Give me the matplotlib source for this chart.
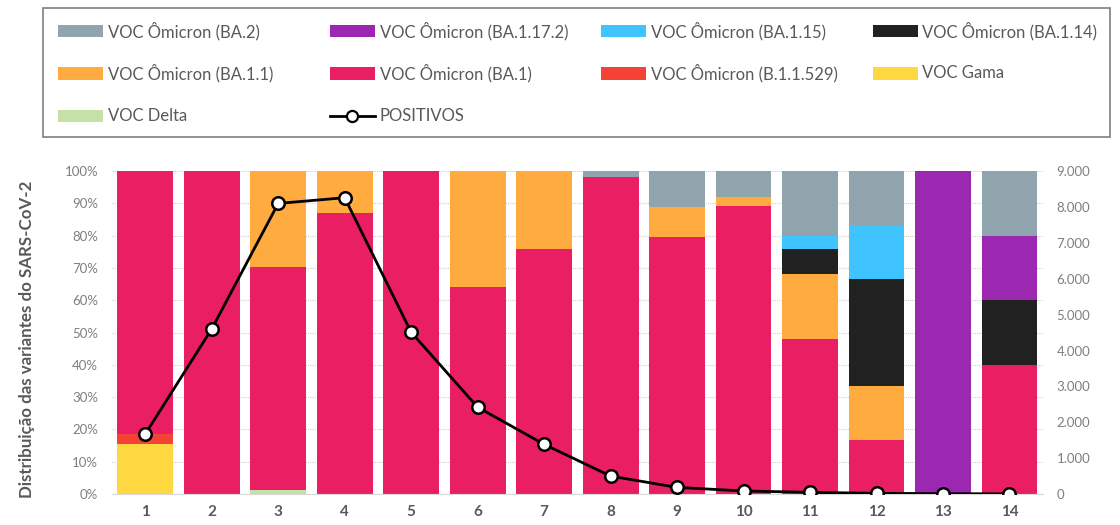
import numpy as np
import matplotlib
matplotlib.use("Agg")
from matplotlib import pyplot as plt
from matplotlib.ticker import FuncFormatter, MultipleLocator
from matplotlib.lines import Line2D
from matplotlib.patches import Rectangle

plt.rcParams['font.family'] = ['Lato', 'DejaVu Sans']

# categories (semanas)
semanas = list(range(1, 15))

# percentages per variant, stacked bottom -> top
delta     = [0, 0, 1.4, 0, 0, 0, 0, 0, 0, 0, 0, 0, 0, 0]
gama      = [15.6, 0, 0, 0, 0, 0, 0, 0, 0, 0, 0, 0, 0, 0]
b11529    = [3.1, 0, 0, 0, 0, 0, 0, 0, 0, 0, 0, 0, 0, 0]
ba1       = [81.3, 100, 68.9, 86.9, 100, 64.2, 75.9, 98.2, 79.7, 89.3, 48, 16.7, 0, 40]
ba11      = [0, 0, 29.7, 13.1, 0, 35.8, 24.1, 0, 9.2, 2.6, 20, 16.7, 0, 0]
ba114     = [0, 0, 0, 0, 0, 0, 0, 0, 0, 0, 8, 33.3, 0, 20]
ba115     = [0, 0, 0, 0, 0, 0, 0, 0, 0, 0, 4, 16.7, 0, 0]
ba1172    = [0, 0, 0, 0, 0, 0, 0, 0, 0, 0, 0, 0, 100, 20]
ba2       = [0, 0, 0, 0, 0, 0, 0, 1.8, 11.1, 8.1, 20, 16.6, 0, 20]

positivos = [1670, 4600, 8100, 8260, 4510, 2420, 1385, 500, 185, 85, 47, 20, 10, 5]

series = [
    ("VOC Delta", delta, "#C5E1A5"),
    ("VOC Gama", gama, "#FFD740"),
    ("VOC Ômicron (B.1.1.529)", b11529, "#F44336"),
    ("VOC Ômicron (BA.1)", ba1, "#E91E63"),
    ("VOC Ômicron (BA.1.1)", ba11, "#FFAB40"),
    ("VOC Ômicron (BA.1.14)", ba114, "#212121"),
    ("VOC Ômicron (BA.1.15)", ba115, "#40C4FF"),
    ("VOC Ômicron (BA.1.17.2)", ba1172, "#9C27B0"),
    ("VOC Ômicron (BA.2)", ba2, "#90A4AE"),
]

W, H = 1120, 525
fig = plt.figure(figsize=(W / 100, H / 100), dpi=100)
ax = fig.add_axes([0.1, 0.059, 0.831, 0.615])

x = np.array(semanas)
bottom = np.zeros(len(x))
colors = {}
for name, vals, color in series:
    vals = np.array(vals, dtype=float)
    ax.bar(x, vals, 0.84, bottom=bottom, color=color, zorder=2)
    bottom += vals
    colors[name] = color

ax.set_xlim(0.5, 14.5)
ax.set_ylim(0, 100)
ax.yaxis.set_major_locator(MultipleLocator(10))
ax.yaxis.set_major_formatter(FuncFormatter(lambda v, p: "%d%%" % v))
ax.grid(axis='y', color='#d0d0d0', linestyle=(0, (1, 1)), linewidth=0.8, zorder=0)
ax.set_xticks(x)
ax.set_xticklabels([str(s) for s in semanas], fontweight='bold', color='#595959', fontsize=11)
ax.tick_params(axis='both', length=0)
ax.tick_params(axis='y', labelsize=9.5, labelcolor='#7f7f7f', pad=10)
ax.tick_params(axis='x', pad=8)
for s in ['top', 'right', 'left']:
    ax.spines[s].set_visible(False)
ax.spines['bottom'].set_color('#d9d9d9')
ax.set_ylabel("Distribuição das variantes do SARS-CoV-2", fontweight='bold',
              color='#595959', fontsize=12.2)
ax.yaxis.set_label_coords(-0.083, 0.48)

ax2 = ax.twinx()
ax2.plot(x, positivos, color='black', lw=2, marker='o', markersize=9,
         markerfacecolor='white', markeredgecolor='black', markeredgewidth=1.8, zorder=5)
ax2.set_ylim(0, 9000)
ax2.yaxis.set_major_locator(MultipleLocator(1000))
ax2.yaxis.set_major_formatter(FuncFormatter(lambda v, p: "{:,.0f}".format(v).replace(",", ".")))
ax2.tick_params(axis='y', length=0, labelsize=9.5, labelcolor='#7f7f7f', pad=10)
for s in ['top', 'right', 'left', 'bottom']:
    ax2.spines[s].set_visible(False)

# legend drawn by hand, Excel-like equal column grid
order = ["VOC Ômicron (BA.2)", "VOC Ômicron (BA.1.17.2)", "VOC Ômicron (BA.1.15)",
         "VOC Ômicron (BA.1.14)", "VOC Ômicron (BA.1.1)", "VOC Ômicron (BA.1)",
         "VOC Ômicron (B.1.1.529)", "VOC Gama", "VOC Delta", "POSITIVOS"]

fig.add_artist(Rectangle((43 / W, 1 - 137 / H), 1067 / W, 129 / H, transform=fig.transFigure,
                         facecolor='none', edgecolor='#7f7f7f', linewidth=1.2))
for i, name in enumerate(order):
    col, row = i % 4, i // 4
    px = 58 + col * 271.5
    py = 31 + row * 42.5
    if name == "POSITIVOS":
        fig.add_artist(Line2D([px / W, (px + 45) / W], [1 - py / H, 1 - py / H],
                              transform=fig.transFigure, color='black', lw=2))
        fig.add_artist(Line2D([(px + 22.5) / W], [1 - py / H], transform=fig.transFigure,
                              marker='o', markersize=8, markerfacecolor='white',
                              markeredgecolor='black', markeredgewidth=1.6))
    else:
        fig.add_artist(Rectangle((px / W, 1 - (py + 6) / H), 45 / W, 12 / H,
                                 transform=fig.transFigure, facecolor=colors[name],
                                 edgecolor='none'))
    fig.text((px + 50) / W, 1 - py / H, name, fontsize=12, color='#595959',
             va='center', ha='left')

fig.savefig("out.png", dpi=100)
